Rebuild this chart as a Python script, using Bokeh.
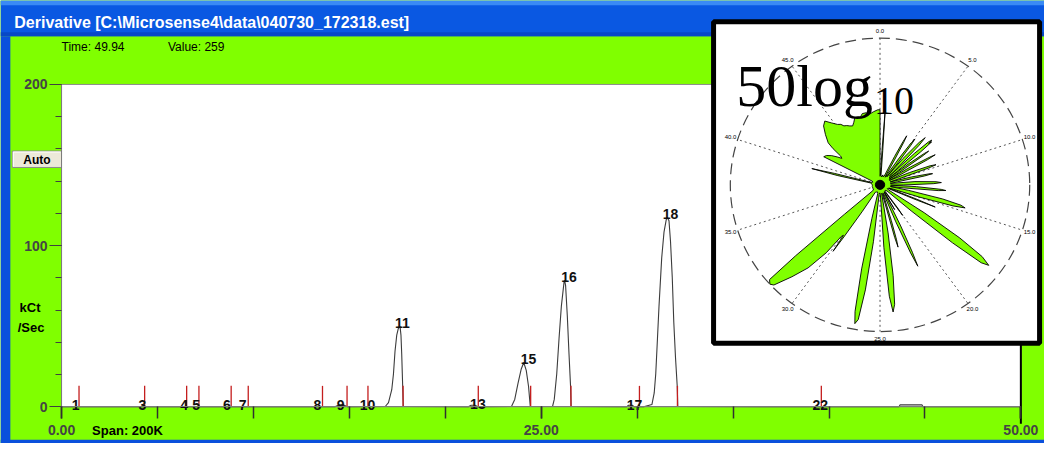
import math
from bokeh.plotting import figure
from bokeh.models import Range1d, LinearAxis, FixedTicker, PrintfTickFormatter
from bokeh.core.properties import value
from bokeh.embed import file_html
from bokeh.resources import INLINE

# ------------------------------------------------------------------ data
title_text = "Derivative [C:\\Microsense4\\data\\040730_172318.est]"
time_text = "Time:  49.94"
value_text = "Value:  259"
span_text = "Span: 200K"
ylabel_lines = ["kCt", "/Sec"]

# derivative trace (time, kCt/Sec)
curve_t = [0.00, 14.25, 14.45, 14.70, 14.90,
           16.87, 17.04, 17.21, 17.30, 17.38, 17.47, 17.55, 17.64, 17.69, 17.73, 17.76, 17.79, 17.81,
           21.20, 21.35, 21.55, 21.70,
           23.45, 23.62, 23.79, 23.96, 24.09, 24.22, 24.34, 24.43,
           25.59, 25.68, 25.81, 25.93, 26.05, 26.19, 26.22, 26.27, 26.36, 26.45, 26.53, 26.56,
           29.45, 29.55, 29.75, 29.85,
           30.34, 30.77, 30.89, 30.97, 31.06, 31.14, 31.28, 31.40, 31.52, 31.57, 31.66, 31.74,
           31.83, 31.91, 32.00, 32.09, 32.12,
           43.65, 43.70, 44.85, 44.90, 50.00]
curve_v = [0.0, 0.0, 1.2, 1.2, 0.0,
           0.2, 2.6, 10.6, 20.5, 34.5, 44.5, 48.5, 50.1, 44.5, 32.5, 20.5, 8.6, 0.2,
           0.0, 1.0, 1.0, 0.0,
           0.2, 4.6, 14.6, 23.5, 27.5, 22.6, 12.6, 0.2,
           0.2, 4.6, 20.5, 42.5, 62.5, 77.4, 78.4, 75.4, 56.5, 32.5, 12.6, 0.2,
           0.0, 1.0, 1.0, 0.0,
           0.0, 1.4, 8.6, 20.5, 42.5, 62.5, 92.4, 108.4, 116.3, 117.4, 115.4, 102.4,
           80.4, 52.5, 30.5, 12.6, 0.2,
           0.0, 1.2, 1.2, 0.0, 0.0]

# integration markers and peak labels
marker_t = [0.91, 4.33, 6.52, 7.16, 8.84, 9.73, 13.60, 14.88, 15.97, 17.80,
            21.72, 24.45, 26.55, 30.12, 32.10, 39.60]
marker_h = 13.0
peak_labels = ["1", "3", "4", "5", "6", "7", "8", "9", "10", "11",
               "13", "15", "16", "17", "18", "22"]
label_t = [0.74, 4.21, 6.39, 7.02, 8.62, 9.44, 13.34, 14.54, 15.95, 17.76,
           21.70, 24.34, 26.45, 29.86, 31.74, 39.55]
label_v = [1.3, 1.3, 1.3, 1.3, 1.3, 1.3, 1.3, 1.3, 1.3, 52.1,
           2.0, 29.9, 80.8, 1.3, 119.9, 1.3]

x_major = [0, 25, 50]
x_minor = [0, 5, 10, 15, 20, 25, 30, 35, 40, 45, 50]
y_major = [0, 100, 200]
y_minor = [0, 20, 40, 60, 80, 100, 120, 140, 160, 180, 200]

# inset: polar plot of 50*log10 of the trace (time around the circle)
R_MAX = 256
polar_t = [0.00, 0.30, 0.45, 0.54, 0.62, 0.80, 1.50, 2.20, 2.80,
           3.50, 3.70, 3.82, 3.90, 3.98, 4.12, 4.40,
           4.70, 4.85, 5.00, 5.10, 5.20, 5.35, 5.50,
           5.62, 5.85, 6.00, 6.12, 6.30, 6.40,
           6.52, 6.65, 6.75, 6.82, 6.90, 7.00, 7.12, 7.25,
           7.38, 7.52, 7.60, 7.68, 7.85, 8.05,
           8.20, 8.38, 8.46, 8.56, 8.75, 8.95,
           9.30, 9.55, 9.70, 9.80, 10.00, 10.25,
           10.50, 10.72, 10.80, 10.90, 11.10, 11.40,
           11.75, 12.05, 12.20, 12.32, 12.55, 12.75,
           12.90, 13.10, 13.20, 13.30, 13.55, 13.80,
           14.05, 14.30, 14.50, 14.65, 14.78, 14.95, 15.10,
           15.40, 15.52, 15.60, 15.68, 15.85, 16.40,
           16.85, 17.05, 17.25, 17.45, 17.65, 17.80, 17.95, 18.12, 18.30,
           19.00, 19.75, 19.88, 20.00, 20.12, 20.70, 20.82, 20.92,
           21.10, 21.35, 21.50, 21.60, 21.70, 21.85, 22.05,
           22.40, 22.60, 22.72, 22.80, 22.88, 23.05,
           23.50, 23.70, 23.88, 24.05, 24.20, 24.35, 24.52, 24.70,
           25.20, 25.70, 25.90, 26.08, 26.25, 26.40, 26.52, 26.68, 26.85, 27.00,
           27.80, 28.60, 29.40, 29.60, 29.75, 29.82, 29.92, 30.05, 30.25, 30.60,
           31.00, 31.40, 31.58, 31.78, 31.86, 31.92, 32.00,
           33.00, 34.00, 35.00, 36.00, 37.00, 38.20,
           39.10, 39.25, 39.40, 39.50, 39.65, 40.50,
           41.10, 41.25, 41.55, 41.90, 42.20, 42.40, 42.60, 42.80, 43.00, 43.50,
           44.00, 44.40, 44.80, 45.20, 45.50, 45.70, 46.00, 46.30, 46.60, 46.90,
           47.20, 47.50, 47.80, 48.10, 48.50, 48.90, 49.30, 49.76, 50.00]
polar_r = [15, 16, 60, 131, 60, 17, 14, 18, 15,
           17, 55, 85, 97, 85, 50, 18,
           16, 55, 88, 100, 86, 50, 18,
           60, 100, 113, 95, 45, 22,
           80, 112, 118, 110, 116, 90, 40, 20,
           62, 94, 102, 90, 40, 18,
           60, 98, 108, 92, 38, 18,
           55, 92, 102, 88, 35, 18,
           55, 88, 92, 78, 30, 18,
           60, 96, 105, 92, 40, 18,
           62, 105, 113, 100, 40, 18,
           50, 110, 143, 151, 130, 70, 22,
           16, 70, 102, 70, 17, 14,
           17, 90, 165, 215, 233, 220, 160, 70, 16,
           13, 14, 50, 66, 16, 14, 50, 15,
           17, 80, 130, 156, 130, 70, 16,
           15, 65, 100, 113, 95, 18,
           15, 85, 160, 210, 223, 195, 110, 18,
           14, 17, 100, 185, 238, 246, 225, 150, 60, 15,
           13, 14, 15, 55, 110, 141, 108, 112, 150, 190,
           220, 252, 256, 251, 190, 80, 16,
           13, 14, 13, 14, 13, 14,
           16, 75, 120, 80, 16, 13,
           15, 108, 105, 97, 87, 80, 84, 102, 115, 128,
           141, 146, 136, 128, 125, 120, 118, 115, 113, 118,
           125, 125, 123, 128, 128, 125, 128, 131, 131]
polar_core_r = 8
polar_ticks = [0, 5, 10, 15, 20, 25, 30, 35, 40, 45]
polar_tick_labels = ["0.0", "5.0", "10.0", "15.0", "20.0",
                     "25.0", "30.0", "35.0", "40.0", "45.0"]
polar_period = 50.0

# ------------------------------------------------------------------ layout
# layout constants are given in reference-picture pixels (1060 x 459);
# the figure is slightly smaller, so the "sx"/"sy" ranges map them in.
REF_W, REF_H = 1060.0, 459.0
W, H = 1044, 443
AX_X0, AX_X50 = 62.0, 1036.0      # ref x of t = 0 and t = 50
AX_Y0, AX_Y200 = 421.0, 87.0      # ref y of 0 and 200 kCt/Sec
kx = (AX_X50 - AX_X0) / 50.0
ky = (AX_Y0 - AX_Y200) / 200.0
IN_CX, IN_CY, IN_RPX = 893.0, 191.0, 152.0
ks = IN_RPX / R_MAX

GREEN = "#80ff00"
FONT = value("Liberation Sans")

p = figure(width=W, height=H,
           x_range=Range1d((0 - AX_X0) / kx, (REF_W - AX_X0) / kx),
           y_range=Range1d((AX_Y0 - REF_H) / ky, AX_Y0 / ky),
           x_axis_type=None, y_axis_type=None,
           output_backend="svg", toolbar_location=None, min_border=0,
           background_fill_color=GREEN, border_fill_color=GREEN,
           outline_line_color=None)
p.extra_x_ranges = {"sx": Range1d(0, REF_W),
                    "px": Range1d(-IN_CX / ks, (REF_W - IN_CX) / ks)}
p.extra_y_ranges = {"sy": Range1d(REF_H, 0),
                    "py": Range1d(-(REF_H - IN_CY) / ks, IN_CY / ks)}
S = dict(x_range_name="sx", y_range_name="sy")
P = dict(x_range_name="px", y_range_name="py")

# ---- window chrome
p.quad(left=[0], right=[REF_W], top=[0], bottom=[37], fill_color="#0a58e2", line_color=None, **S)
p.quad(left=[0], right=[REF_W], top=[0], bottom=[5], fill_color="#3a8af5", line_color=None, **S)
p.quad(left=[0], right=[REF_W], top=[33], bottom=[37], fill_color="#0748c6", line_color=None, **S)
p.quad(left=[0], right=[10], top=[37], bottom=[REF_H], fill_color="#0a50dc", line_color=None, **S)
p.quad(left=[0], right=[REF_W], top=[455], bottom=[REF_H], fill_color="#0a50dc", line_color=None, **S)
p.text(x=[14], y=[23], text=[title_text], text_color="white", text_font=FONT,
       text_font_style="bold", text_font_size="16px", text_baseline="middle", **S)
p.text(x=[62, 170], y=[48, 48], text=[time_text, value_text], text_color="black",
       text_font=FONT, text_font_size="12px", text_baseline="middle", **S)

# Auto button
p.quad(left=[12], right=[62], top=[156], bottom=[173], fill_color="#ece9d8",
       line_color="#8a8a8a", line_width=1, **S)
p.segment(x0=[13, 13], y0=[157, 157], x1=[61, 13], y1=[157, 172], line_color="white", **S)
p.text(x=[37], y=[165], text=["Auto"], text_font=FONT, text_font_style="bold",
       text_font_size="12px", text_align="center", text_baseline="middle", **S)

# axis title and span
p.text(x=[30, 31], y=[318, 339], text=ylabel_lines, text_font=FONT, text_font_style="bold",
       text_font_size="13px", text_align="center", text_baseline="middle", **S)
p.text(x=[93], y=[446], text=[span_text], text_font=FONT, text_font_style="bold",
       text_font_size="13px", text_baseline="middle", **S)

# ---- main plot area
p.quad(left=[x_major[0]], right=[x_major[-1]], bottom=[y_major[0]], top=[y_major[-1]],
       fill_color="white", line_color="#8c8c8c", line_width=1)
p.line(curve_t, curve_v, line_color="#3c3c3c", line_width=1.1)
p.segment(x0=marker_t, y0=[0] * len(marker_t), x1=marker_t, y1=[marker_h] * len(marker_t),
          line_color="#c41e1e", line_width=1.3)
p.text(x=label_t, y=label_v, text=peak_labels, text_font=FONT, text_font_style="bold",
       text_font_size="14px", text_align="center", text_baseline="alphabetic", text_color="#111111")
p.segment(x0=[x_major[-1]], y0=[-10.5], x1=[x_major[-1]], y1=[y_major[-1]],
          line_color="black", line_width=2)

yax = LinearAxis(fixed_location=0, bounds=(y_major[0], y_major[-1]),
                 ticker=FixedTicker(ticks=y_major, minor_ticks=y_minor))
yax.axis_line_color = "#7c7c7c"
yax.major_tick_out, yax.major_tick_in = 12, 0
yax.minor_tick_out, yax.minor_tick_in = 6, 0
yax.major_tick_line_color = "#404040"
yax.minor_tick_line_color = "#404040"
yax.major_label_text_font = "Liberation Sans"
yax.major_label_text_font_style = "bold"
yax.major_label_text_font_size = "14px"
yax.major_label_standoff = 2
p.add_layout(yax, "left")

xax = LinearAxis(fixed_location=0, bounds=(x_major[0], x_major[-1]),
                 ticker=FixedTicker(ticks=x_major, minor_ticks=x_minor),
                 formatter=PrintfTickFormatter(format="%.2f"))
xax.axis_line_color = "#7c7c7c"
xax.major_tick_out, xax.major_tick_in = 12, 0
xax.minor_tick_out, xax.minor_tick_in = 12, 0
xax.major_tick_line_color = "#303030"
xax.minor_tick_line_color = "#303030"
xax.major_tick_line_width = 1.5
xax.minor_tick_line_width = 1.5
xax.major_label_text_font = "Liberation Sans"
xax.major_label_text_font_style = "bold"
xax.major_label_text_font_size = "14px"
xax.major_label_standoff = 6
p.add_layout(xax, "below")

# ---- inset polar plot
p.quad(left=[724], right=[1055], top=[22], bottom=[355], fill_color="white",
       line_color="black", line_width=5, **S)
ang = [2 * math.pi * t / polar_period for t in polar_ticks]
p.segment(x0=[0] * len(ang), y0=[0] * len(ang),
          x1=[R_MAX * math.sin(a) for a in ang], y1=[R_MAX * math.cos(a) for a in ang],
          line_color="#555555", line_width=1, line_dash="2 3", **P)
p.ellipse(x=[0], y=[0], width=2 * R_MAX, height=2 * R_MAX, fill_color=None,
          line_color="#444444", line_width=1.2, line_dash="11 6", **P)
pa = [2 * math.pi * t / polar_period for t in polar_t]
p.patch([r * math.sin(a) for r, a in zip(polar_r, pa)],
        [r * math.cos(a) for r, a in zip(polar_r, pa)],
        fill_color=GREEN, line_color="black", line_width=0.9, **P)
p.ellipse(x=[0], y=[0], width=2 * polar_core_r, height=2 * polar_core_r,
          fill_color="black", line_color="black", **P)
p.text(x=[1.05 * R_MAX * math.sin(a) for a in ang], y=[1.05 * R_MAX * math.cos(a) for a in ang],
       text=polar_tick_labels, text_font=FONT, text_font_size="6px", text_align="center",
       text_baseline="middle", text_color="black", **P)
p.text(x=[747], y=[89], text=["50log"], text_font=value("Liberation Serif"),
       text_font_size="60px", text_baseline="alphabetic", text_color="black", **S)
p.text(x=[887], y=[104], text=["10"], text_font=value("Liberation Serif"),
       text_font_size="40px", text_baseline="alphabetic", text_color="black", **S)

open("out.html", "w").write(file_html(p, INLINE))
